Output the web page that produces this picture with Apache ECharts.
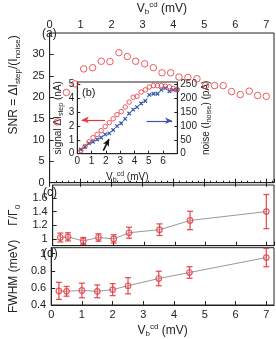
<!DOCTYPE html>
<html><head><meta charset="utf-8">
<script src="https://cdn.jsdelivr.net/npm/echarts@6/dist/echarts.min.js"></script>
<style>html,body{margin:0;padding:0;background:#fff}#c{width:276px;height:339px}</style>
</head><body><div id="c"></div>
<script>
// Panel (a): SNR vs V_b^cd
const snrX = [0.25,0.54,0.82,1.10,1.39,1.67,1.95,2.24,2.51,2.78,3.07,3.35,3.63,3.91,4.18,4.47,4.76,5.04,5.33,5.61,5.88,6.16,6.45,6.72,7.00];
const snrY = [14.2,21.1,23.1,26.6,26.9,28.4,28.3,30.4,29.5,28.4,27.8,26.9,25.7,25.7,24.7,24.6,24.3,22.7,22.7,22.7,21.3,20.6,21.4,20.4,20.2];
// Panel (b) inset: signal (nA) and noise (pA)
const signalNA = [0.22,0.52,0.85,1.15,1.38,1.65,1.95,2.22,2.50,2.80,3.02,3.35,3.70,4.05,4.12,4.42,4.58,4.78,4.88,4.88,4.88,4.84,4.80,4.68,4.60];
const noisePA = [15,25,37,43,51,58,69,73,85,99,109,125,144,158,167,180,189,211,215,215,229,235,224,229,228];
// Panels (c),(d)
const cdX = [0.25,0.5,1,1.5,2,2.5,3.5,4.5,7];
const gammaRatio = [1.02,1.03,0.97,1.02,1.00,1.09,1.135,1.27,1.40];
const gammaErr = [0.065,0.06,0.05,0.055,0.06,0.08,0.085,0.135,0.25];
const fwhm = [0.565,0.56,0.57,0.56,0.58,0.625,0.71,0.78,0.955];
const fwhmErr = [0.10,0.057,0.085,0.075,0.07,0.095,0.085,0.068,0.107];
// tick labels
const xTicks = [0,1,2,3,4,5,6,7];
const gammaTicks = [1,1.2,1.4,1.6];
// inset arrows [x1,y1,x2,y2] in data units
const redArrow = [1.94,2.42,0.31,2.42];
const blueArrow = [4.85,118,6.64,118];
const blackArrow = [1.82,0.22,2.22,1.05];

const RED = '#e8343c', BLUE = '#3a57a8', INK = '#222';
const FONT = '"Liberation Sans", Arial, sans-serif';
const rich = {
  n: {fontSize: 12, fontFamily: FONT, color: INK},
  b: {fontSize: 8, fontFamily: FONT, color: INK, verticalAlign: 'bottom', padding: [7,0,0,0]},
  s: {fontSize: 8, fontFamily: FONT, color: INK, verticalAlign: 'top', padding: [0,0,6,0]}
};
const richSmall = {
  n: {fontSize: 10, fontFamily: FONT, color: INK},
  b: {fontSize: 7, fontFamily: FONT, color: INK, verticalAlign: 'bottom', padding: [6,0,0,0]},
  s: {fontSize: 7, fontFamily: FONT, color: INK, verticalAlign: 'top', padding: [0,0,5,0]}
};
const vName = '{n|V}{b|b}{s|cd}{n| (mV)}';
const lbl = {color: INK, fontFamily: FONT, fontSize: 11};
const lblS = {color: INK, fontFamily: FONT, fontSize: 10};
const line = {show: true, lineStyle: {color: INK, width: 1}};
const tick = {show: true, inside: true, length: 4, lineStyle: {color: INK}};
const G = {left: 37.7, width: 236.3};

function errBars(xs, ys, es, xi, yi) {
  return {
    type: 'custom', xAxisIndex: xi, yAxisIndex: yi, z: 3,
    data: xs.map((x, i) => [x, ys[i] - es[i], ys[i] + es[i]]),
    renderItem: function (params, api) {
      const x = api.value(0);
      const a = api.coord([x, api.value(2)]);
      const b = api.coord([x, api.value(1)]);
      const w = 3;
      const st = {stroke: RED, lineWidth: 1.3, opacity: 0.85};
      return {type: 'group', children: [
        {type: 'line', shape: {x1: a[0], y1: a[1], x2: b[0], y2: b[1]}, style: st},
        {type: 'line', shape: {x1: a[0]-w, y1: a[1], x2: a[0]+w, y2: a[1]}, style: st},
        {type: 'line', shape: {x1: b[0]-w, y1: b[1], x2: b[0]+w, y2: b[1]}, style: st}
      ]};
    }
  };
}
function panelLabel(t, x, y, size) {
  return {type: 'text', x: x, y: y, z: 100, zlevel: 0,
    style: {text: t, fontSize: size, fontFamily: FONT, fill: INK, textVerticalAlign: 'top'}};
}

const chart = echarts.init(document.getElementById('c'), null, {renderer: 'canvas'});
chart.setOption({
  animation: false,
  backgroundColor: '#fff',
  grid: [
    {left: G.left, top: 26, width: G.width, height: 156.7, show: true, borderColor: INK, borderWidth: 1},
    {left: 77.3, top: 82, width: 100, height: 71.7, show: true, borderColor: INK, borderWidth: 1, backgroundColor: '#fff'},
    {left: G.left, top: 185, width: G.width, height: 60.7, show: true, borderColor: INK, borderWidth: 1},
    {left: G.left, top: 247.7, width: G.width, height: 61, show: true, borderColor: INK, borderWidth: 1}
  ],
  xAxis: [
    {gridIndex: 0, type: 'value', position: 'top', min: 0, max: 7.25, interval: 1, splitLine: {show: false},
     axisLine: line, axisTick: tick, axisLabel: Object.assign({margin: 3}, lbl),
     name: vName, nameLocation: 'middle', nameGap: 17, nameTextStyle: {rich: rich}},
    {gridIndex: 0, type: 'value', position: 'bottom', min: 0, max: 7.25, interval: 1, splitLine: {show: false},
     axisLine: line, axisTick: tick, axisLabel: {show: false},
     minorTick: {show: true, splitNumber: 5, length: 2, lineStyle: {color: INK}}},
    {gridIndex: 1, type: 'value', min: 0, max: 7, interval: 1, splitLine: {show: false},
     axisLine: line, axisTick: {show: true, inside: true, length: 3, lineStyle: {color: INK}},
     axisLabel: Object.assign({margin: 3, showMaxLabel: false}, lblS),
     name: vName, nameLocation: 'middle', nameGap: 17, nameTextStyle: {rich: richSmall}},
    {gridIndex: 2, type: 'value', min: 0, max: 7.25, interval: 1, splitLine: {show: false},
     axisLine: line, axisTick: tick, axisLabel: {show: false}},
    {gridIndex: 3, type: 'value', min: 0, max: 7.25, interval: 1, splitLine: {show: false},
     axisLine: line, axisTick: tick, axisLabel: Object.assign({margin: 4}, lbl),
     name: vName, nameLocation: 'middle', nameGap: 18, nameTextStyle: {rich: rich}}
  ],
  yAxis: [
    {gridIndex: 0, type: 'value', min: 0, max: 35, interval: 5, splitLine: {show: false},
     axisLine: line, axisTick: tick, axisLabel: Object.assign({margin: 5, showMaxLabel: false}, lbl),
     name: '{n|SNR = ΔI}{b|step}{n|/(I}{b|noise}{n|)}', nameLocation: 'middle', nameGap: 20,
     nameTextStyle: {rich: rich, padding: [0, 0, 0, 46]}},
    {gridIndex: 1, type: 'value', min: 0, max: 5.14, interval: 1, splitLine: {show: false},
     axisLine: line, axisTick: {show: true, inside: true, length: 3, lineStyle: {color: INK}},
     axisLabel: Object.assign({margin: 3}, lblS),
     name: '{n|signal ΔI}{b|step}{n| (nA)}', nameLocation: 'middle', nameGap: 9, nameTextStyle: {rich: richSmall}},
    {gridIndex: 1, type: 'value', position: 'right', min: 0, max: 257, interval: 50, splitLine: {show: false},
     axisLine: line, axisTick: {show: true, inside: true, length: 3, lineStyle: {color: INK}},
     axisLabel: Object.assign({margin: 3}, lblS),
     name: '{n|noise (I}{b|noise}{n|) (pA)}', nameLocation: 'middle', nameGap: 22, nameRotate: 90, nameTextStyle: {rich: richSmall}},
    {gridIndex: 2, type: 'value', min: 0.9, max: 1.79, splitLine: {show: false},
     axisLine: line,
     axisTick: {show: true, inside: true, length: 4, lineStyle: {color: INK}, customValues: gammaTicks},
     axisLabel: Object.assign({margin: 5, customValues: gammaTicks}, lbl),
     name: '{n|Γ/Γ}{b|0}', nameLocation: 'middle', nameGap: 20, nameTextStyle: {rich: rich}},
    {gridIndex: 3, type: 'value', min: 0.4, max: 1.07, interval: 0.2, splitLine: {show: false},
     axisLine: line, axisTick: tick, axisLabel: Object.assign({margin: 5, showMaxLabel: false}, lbl),
     name: '{n|FWHM (meV)}', nameLocation: 'middle', nameGap: 20, nameTextStyle: {rich: rich}}
  ],
  graphic: [
    panelLabel('(a)', 42, 28, 12),
    panelLabel('(b)', 82, 87, 11),
    panelLabel('(c)', 43, 187, 12),
    panelLabel('(d)', 43, 248, 12)
  ],
  series: [
    {type: 'scatter', xAxisIndex: 0, yAxisIndex: 0, data: snrX.map((x, i) => [x, snrY[i]]),
     symbol: 'circle', symbolSize: 6.5, itemStyle: {color: 'transparent', borderColor: RED, borderWidth: 1}},
    {type: 'line', xAxisIndex: 2, yAxisIndex: 2, data: snrX.map((x, i) => [x, noisePA[i]]), z: 5,
     symbol: 'path://M0,0L10,10M10,0L0,10', symbolSize: 3.5, showSymbol: true,
     lineStyle: {color: BLUE, width: 0.8, opacity: 0.6}, itemStyle: {color: BLUE, borderColor: BLUE, borderWidth: 1.2},
     markLine: {silent: true, symbol: ['none', 'arrow'], symbolSize: [5, 7], label: {show: false},
       lineStyle: {color: BLUE, width: 1.2, type: 'solid'},
       data: [[{coord: [blueArrow[0], blueArrow[1]]}, {coord: [blueArrow[2], blueArrow[3]]}]]}},
    {type: 'scatter', xAxisIndex: 2, yAxisIndex: 1, data: snrX.map((x, i) => [x, signalNA[i]]), z: 6,
     symbol: 'circle', symbolSize: 4.5, itemStyle: {color: 'transparent', borderColor: RED, borderWidth: 1},
     markLine: {silent: true, symbol: ['none', 'arrow'], symbolSize: [5, 7], label: {show: false},
       data: [
         [{coord: [redArrow[0], redArrow[1]], lineStyle: {color: RED, width: 1.2, type: 'solid'}}, {coord: [redArrow[2], redArrow[3]]}],
         [{coord: [blackArrow[0], blackArrow[1]], lineStyle: {color: '#111', width: 1.6, type: 'solid'}}, {coord: [blackArrow[2], blackArrow[3]]}]
       ]}},
    {type: 'line', xAxisIndex: 3, yAxisIndex: 3, data: cdX.map((x, i) => [x, gammaRatio[i]]),
     showSymbol: false, lineStyle: {color: '#999', width: 1}},
    errBars(cdX, gammaRatio, gammaErr, 3, 3),
    {type: 'scatter', xAxisIndex: 3, yAxisIndex: 3, data: cdX.map((x, i) => [x, gammaRatio[i]]), z: 4,
     symbol: 'circle', symbolSize: 5.5, itemStyle: {color: 'transparent', borderColor: RED, borderWidth: 1.2}},
    {type: 'line', xAxisIndex: 4, yAxisIndex: 4, data: cdX.map((x, i) => [x, fwhm[i]]),
     showSymbol: false, lineStyle: {color: '#999', width: 1}},
    errBars(cdX, fwhm, fwhmErr, 4, 4),
    {type: 'scatter', xAxisIndex: 4, yAxisIndex: 4, data: cdX.map((x, i) => [x, fwhm[i]]), z: 4,
     symbol: 'circle', symbolSize: 5.5, itemStyle: {color: 'transparent', borderColor: RED, borderWidth: 1.2}}
  ]
});
</script></body></html>
